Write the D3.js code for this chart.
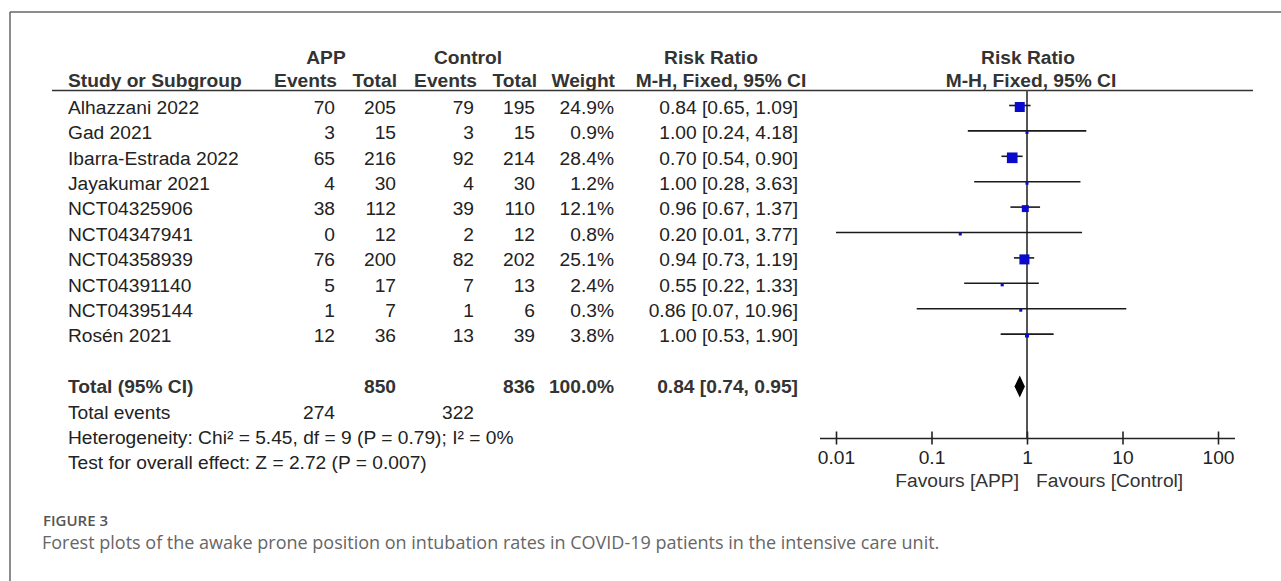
<!DOCTYPE html>
<html>
<head>
<meta charset="utf-8">
<script src="https://cdn.jsdelivr.net/npm/d3@7"></script>
<style>
  body { margin: 0; background: #fff; }
  svg { display: block; }
</style>
</head>
<body>
<div id="chart"></div>
<script>
// Forest plot: awake prone position vs control, intubation

var studies = ["Alhazzani 2022", "Gad 2021", "Ibarra-Estrada 2022", "Jayakumar 2021", "NCT04325906",
               "NCT04347941", "NCT04358939", "NCT04391140", "NCT04395144", "Rosén 2021"];
var appEvents  = [70, 3, 65, 4, 38, 0, 76, 5, 1, 12];
var appTotal   = [205, 15, 216, 30, 112, 12, 200, 17, 7, 36];
var ctrlEvents = [79, 3, 92, 4, 39, 2, 82, 7, 1, 13];
var ctrlTotal  = [195, 15, 214, 30, 110, 12, 202, 13, 6, 39];
var weights    = [24.9, 0.9, 28.4, 1.2, 12.1, 0.8, 25.1, 2.4, 0.3, 3.8];
var rr         = [0.84, 1.00, 0.70, 1.00, 0.96, 0.20, 0.94, 0.55, 0.86, 1.00];
var lower      = [0.65, 0.24, 0.54, 0.28, 0.67, 0.01, 0.73, 0.22, 0.07, 0.53];
var upper      = [1.09, 4.18, 0.90, 3.63, 1.37, 3.77, 1.19, 1.33, 10.96, 1.90];

var totalApp = 850, totalCtrl = 836, totalWeight = 100.0;
var totalEvents = [274, 322];
var pooled = [0.84, 0.74, 0.95];
var tickValues = [0.01, 0.1, 1, 10, 100];
var tickLabels = ["0.01", "0.1", "1", "10", "100"];

var W = 1281, H = 581;
var fs = 19.2;
var textCol = "#222", headCol = "#333";
var fontTable = "'Liberation Sans', Arial, sans-serif";

var svg = d3.select("#chart").append("svg")
    .attr("width", W)
    .attr("height", H);

// frame
svg.append("line").attr("x1", 10).attr("x2", W).attr("y1", 12).attr("y2", 12)
    .style("stroke", "#666").style("stroke-width", 1.5);
svg.append("line").attr("x1", 10).attr("x2", 10).attr("y1", 12).attr("y2", H)
    .style("stroke", "#666").style("stroke-width", 1.5);

// row positions
var row = d3.scaleLinear().domain([0, 1]).range([107, 132.4]);
var base = function(i) { return row(i) + 6.8; };

// columns (right edges unless noted)
var col = { name: 68, appE: 335, appT: 396, ctlE: 474, ctlT: 535, wt: 614, ci: 798 };

function txt(x, y, s, anchor, bold, color) {
  return svg.append("text")
    .attr("x", x).attr("y", y)
    .attr("text-anchor", anchor || "start")
    .style("font-family", fontTable)
    .style("font-size", fs + "px")
    .style("font-weight", bold ? "bold" : "normal")
    .style("fill", color || textCol)
    .text(s);
}

// headers
var h1 = 64, h2 = 87;
txt(326, h1, "APP", "middle", true, headCol);
txt(468, h1, "Control", "middle", true, headCol);
txt(711, h1, "Risk Ratio", "middle", true, headCol);
txt(1028, h1, "Risk Ratio", "middle", true, headCol);
txt(col.name, h2, "Study or Subgroup", "start", true, headCol);
txt(337, h2, "Events", "end", true, headCol);
txt(397, h2, "Total", "end", true, headCol);
txt(477, h2, "Events", "end", true, headCol);
txt(537, h2, "Total", "end", true, headCol);
txt(615, h2, "Weight", "end", true, headCol);
txt(721, h2, "M-H, Fixed, 95% CI", "middle", true, headCol);
txt(1031, h2, "M-H, Fixed, 95% CI", "middle", true, headCol);

svg.append("line").attr("x1", 52).attr("x2", 1253).attr("y1", 90.5).attr("y2", 90.5)
    .style("stroke", "#333").style("stroke-width", 1.5);

var f2 = d3.format(".2f");
var ciText = function(m, l, u) { return f2(m) + " [" + f2(l) + ", " + f2(u) + "]"; };

// study rows
studies.forEach(function(s, i) {
  var y = base(i);
  txt(col.name, y, s, "start");
  txt(col.appE, y, appEvents[i], "end");
  txt(col.appT, y, appTotal[i], "end");
  txt(col.ctlE, y, ctrlEvents[i], "end");
  txt(col.ctlT, y, ctrlTotal[i], "end");
  txt(col.wt, y, weights[i].toFixed(1) + "%", "end");
  txt(col.ci, y, ciText(rr[i], lower[i], upper[i]), "end");
});

// totals
var iT = studies.length + 1;
txt(col.name, base(iT), "Total (95% CI)", "start", true, headCol);
txt(col.appT, base(iT), totalApp, "end", true, headCol);
txt(col.ctlT, base(iT), totalCtrl, "end", true, headCol);
txt(col.wt, base(iT), totalWeight.toFixed(1) + "%", "end", true, headCol);
txt(col.ci, base(iT), ciText(pooled[0], pooled[1], pooled[2]), "end", true, headCol);
txt(col.name, base(iT + 1), "Total events", "start");
txt(col.appE, base(iT + 1), totalEvents[0], "end");
txt(col.ctlE, base(iT + 1), totalEvents[1], "end");
txt(col.name, base(iT + 2), "Heterogeneity: Chi² = 5.45, df = 9 (P = 0.79); I² = 0%", "start");
txt(col.name, base(iT + 3), "Test for overall effect: Z = 2.72 (P = 0.007)", "start");

// forest plot
var x = d3.scaleLog().domain([0.01, 100]).range([836, 1218]);
var axisY = 438.5;

svg.append("line")
    .attr("x1", x(1)).attr("x2", x(1))
    .attr("y1", 90.5).attr("y2", axisY)
    .style("stroke", "#555").style("stroke-width", 2);

var g = svg.append("g");
g.selectAll(".ci").data(studies).enter().append("line")
    .attr("class", "ci")
    .attr("x1", function(d, i) { return x(lower[i]); })
    .attr("x2", function(d, i) { return x(upper[i]); })
    .attr("y1", function(d, i) { return row(i) - 1.5; })
    .attr("y2", function(d, i) { return row(i) - 1.5; })
    .style("stroke", "#1a1a1a").style("stroke-width", 1.6);

var side = function(w) { return Math.max(3, 2.0 * Math.sqrt(w)); };
g.selectAll(".sq").data(studies).enter().append("rect")
    .attr("class", "sq")
    .attr("x", function(d, i) { return x(rr[i]) - side(weights[i]) / 2; })
    .attr("y", function(d, i) { return row(i) - side(weights[i]) / 2; })
    .attr("width", function(d, i) { return side(weights[i]); })
    .attr("height", function(d, i) { return side(weights[i]); })
    .style("fill", "#0a0acc");

// pooled diamond
var dy = row(iT), dh = 11;
svg.append("path")
    .attr("d", "M" + x(pooled[1]) + "," + dy +
               "L" + x(pooled[0]) + "," + (dy - dh) +
               "L" + x(pooled[2]) + "," + dy +
               "L" + x(pooled[0]) + "," + (dy + dh) + "Z")
    .style("fill", "#000");

// axis
var axis = d3.axisBottom(x)
    .tickValues(tickValues)
    .tickFormat(function(d, i) { return tickLabels[i]; })
    .tickSizeOuter(0);

var gAxis = svg.append("g")
    .attr("transform", "translate(0," + axisY + ")")
    .call(axis);
gAxis.select(".domain").remove();
gAxis.append("line")
    .attr("x1", x(0.01) - 16).attr("x2", x(100) + 17)
    .style("stroke", "#222").style("stroke-width", 1.6);
gAxis.selectAll(".tick line")
    .attr("y1", -7).attr("y2", 6)
    .style("stroke", "#222").style("stroke-width", 1.6);
gAxis.selectAll(".tick text")
    .attr("y", 0).attr("dy", null)
    .attr("transform", "translate(0,25)")
    .style("font-family", fontTable)
    .style("font-size", fs + "px")
    .style("fill", textCol);

txt(x(1) - 8, 487, "Favours [APP]", "end", false, "#333");
txt(x(1) + 9, 487, "Favours [Control]", "start", false, "#333");

// caption
svg.append("text")
    .attr("x", 43).attr("y", 526)
    .style("font-family", "'Open Sans', sans-serif")
    .style("font-size", "15px")
    .style("font-weight", 600)
    .style("fill", "#555")
    .text("FIGURE 3");
svg.append("text")
    .attr("x", 42).attr("y", 549)
    .style("font-family", "'Open Sans', sans-serif")
    .style("font-size", "18px")
    .style("fill", "#666")
    .text("Forest plots of the awake prone position on intubation rates in COVID-19 patients in the intensive care unit.");
</script>
</body>
</html>
